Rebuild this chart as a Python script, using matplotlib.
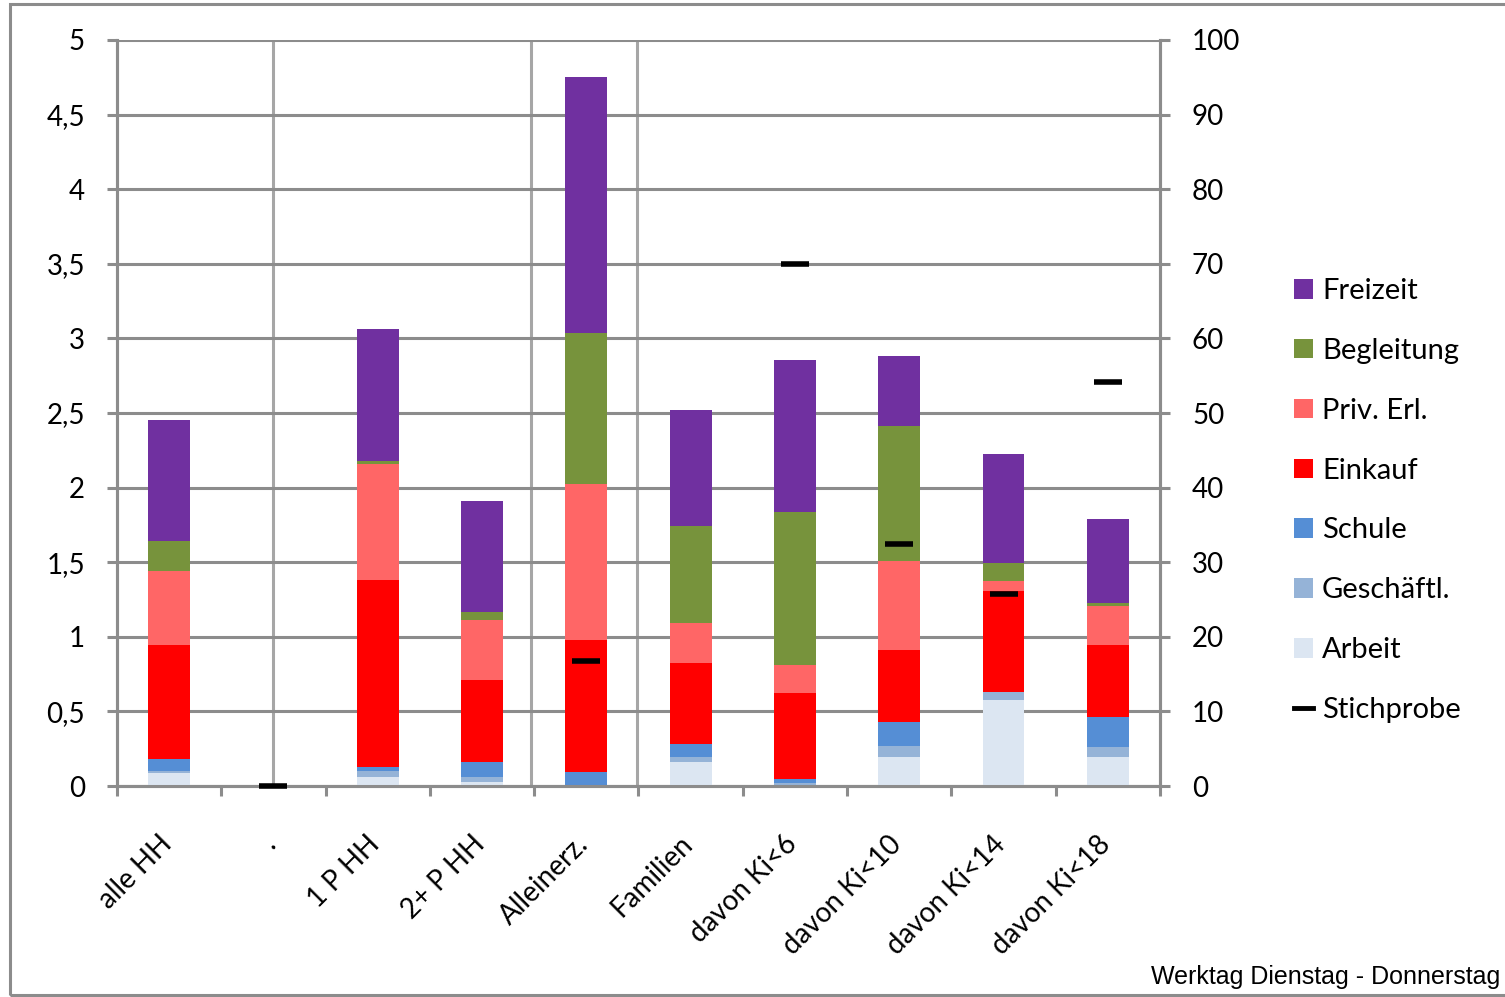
import numpy as np
import matplotlib
matplotlib.use("Agg")
import matplotlib.pyplot as plt
import matplotlib.transforms as mtransforms
from matplotlib.patches import Rectangle
from matplotlib.lines import Line2D

plt.rcParams['font.family'] = ['Lato', 'DejaVu Sans']

# Wege pro Person und Tag nach Zweck
categories = ['alle HH', '.', '1 P HH', '2+ P HH', 'Alleinerz.', 'Familien',
              'davon Ki<6', 'davon Ki<10', 'davon Ki<14', 'davon Ki<18']

arbeit      = [0.087, 0.0, 0.06, 0.03, 0.0,   0.16,  0.01,  0.194, 0.576, 0.194]
geschaeftl  = [0.013, 0.0, 0.04, 0.03, 0.0,   0.034, 0.01,  0.074, 0.054, 0.067]
schule      = [0.08,  0.0, 0.03, 0.10, 0.094, 0.087, 0.027, 0.16,  0.0,   0.20]
einkauf     = [0.764, 0.0, 1.25, 0.55, 0.885, 0.543, 0.576, 0.483, 0.677, 0.483]
priv_erl    = [0.496, 0.0, 0.78, 0.40, 1.045, 0.268, 0.188, 0.60,  0.067, 0.26]
begleitung  = [0.20,  0.0, 0.02, 0.055, 1.01, 0.65,  1.025, 0.90,  0.12,  0.02]
freizeit    = [0.81,  0.0, 0.885, 0.745, 1.716, 0.78, 1.02, 0.47,  0.73,  0.563]

# Stichprobe (rechte Achse), nur wo vorhanden
stichprobe = [np.nan, 0.0, np.nan, np.nan, 16.8, np.nan, 70.0, 32.4, 25.7, 54.2]

series = [
    ('Arbeit', arbeit, '#DCE6F2'),
    ('Geschäftl.', geschaeftl, '#95B3D7'),
    ('Schule', schule, '#558ED5'),
    ('Einkauf', einkauf, '#FF0000'),
    ('Priv. Erl.', priv_erl, '#FF6666'),
    ('Begleitung', begleitung, '#77933C'),
    ('Freizeit', freizeit, '#7030A0'),
]

grid_c = '#8C8C8C'

fig = plt.figure(figsize=(15.05, 9.97), dpi=100)
ax = fig.add_axes([0.0777, 0.2116, 0.6931, 0.7483])

x = np.arange(len(categories))
bottom = np.zeros(len(categories))
handles = []
for name, vals, col in series:
    vals = np.array(vals)
    b = ax.bar(x, vals, 0.4, bottom=bottom, color=col, label=name, zorder=3)
    handles.append(b)
    bottom += vals

ax.set_xlim(-0.5, len(categories) - 0.5)
ax.set_ylim(0, 5)
ax.set_yticks(np.arange(0, 5.01, 0.5))
ax.set_yticklabels(['0', '0,5', '1', '1,5', '2', '2,5', '3', '3,5', '4', '4,5', '5'])
ax.grid(axis='y', color=grid_c, linewidth=2.2, zorder=0)
ax.tick_params(axis='y', length=7, width=2.2, color=grid_c, labelsize=20, pad=16)

# tick marks between categories, labels at the centres
ax.set_xticks(np.arange(-0.5, len(categories), 1))
ax.set_xticklabels([])
ax.tick_params(axis='x', which='major', length=7, width=2.2, color=grid_c)
ax.set_xticks(x, minor=True)
ax.set_xticklabels(categories, minor=True, rotation=45, ha='right',
                   rotation_mode='anchor', fontsize=20)
ax.tick_params(axis='x', which='minor', length=0, pad=30)
shift = mtransforms.ScaledTranslation(-11 / 100, -3 / 100, fig.dpi_scale_trans)
for lbl in ax.get_xticklabels(minor=True):
    lbl.set_transform(lbl.get_transform() + shift)

# senkrechte Linien
for xv in [1.0, 3.47, 4.49]:
    ax.axvline(xv, color='#A6A6A6', linewidth=2.2, zorder=1)

for side in ['left', 'right', 'bottom']:
    ax.spines[side].set_color(grid_c)
    ax.spines[side].set_linewidth(2.2)
ax.spines['top'].set_visible(False)

ax2 = ax.twinx()
ax2.set_ylim(0, 100)
ax2.set_yticks(np.arange(0, 101, 10))
ax2.tick_params(axis='y', length=7, width=2.2, color=grid_c, labelsize=20, pad=16)
for side in ['left', 'right', 'bottom']:
    ax2.spines[side].set_color(grid_c)
    ax2.spines[side].set_linewidth(2.2)
ax2.spines['top'].set_visible(False)
ax2.plot(x, stichprobe, linestyle='none', marker='_', markersize=20,
         markeredgewidth=4, color='black', zorder=5, clip_on=False)

leg_handles = handles[::-1] + [Line2D([], [], color='black', linewidth=3.5)]
leg_labels = [s[0] for s in series][::-1] + ['Stichprobe']
fig.legend(leg_handles, leg_labels, loc='center left', bbox_to_anchor=(0.860, 0.498),
           frameon=False, fontsize=21, handlelength=0.65, handleheight=0.65,
           handletextpad=0.3, labelspacing=1.16, borderaxespad=0, borderpad=0)

fig.text(0.997, 0.008, 'Werktag Dienstag - Donnerstag', ha='right', va='bottom',
         fontsize=18, family='Liberation Sans')

fig.patches.append(Rectangle((0.0066, 0.002), 0.999, 0.994, transform=fig.transFigure,
                             fill=False, edgecolor='#8C8C8C', linewidth=2.2))

fig.savefig('out.png', dpi=100)
